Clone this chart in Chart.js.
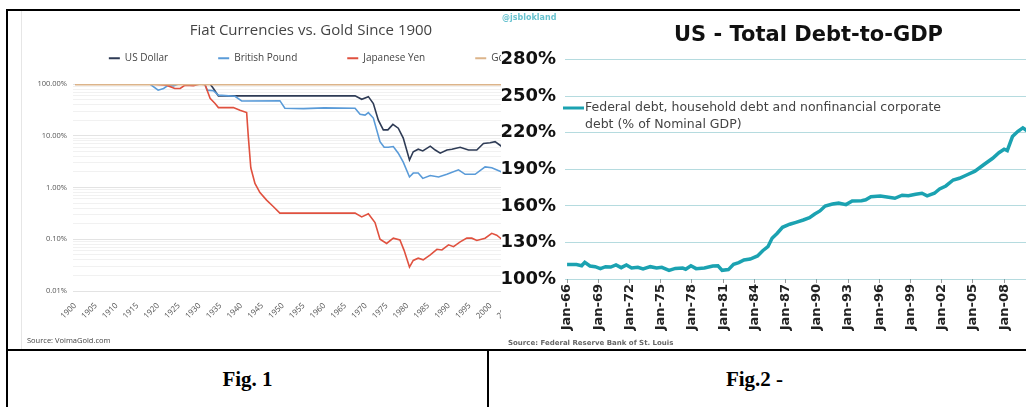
<!DOCTYPE html>
<html><head><meta charset="utf-8">
<script src="https://cdn.jsdelivr.net/npm/chart.js@4.4.1/dist/chart.umd.min.js"></script>
<style>
html,body{margin:0;padding:0;background:#fff;width:1026px;height:407px;overflow:hidden;position:relative;}
.abs{position:absolute;}
#leftWrap{left:21px;top:10px;width:580px;height:338px;z-index:1;}
#imgEdge{left:21px;top:10px;width:1px;height:339px;background:#e6e6e6;z-index:2;}
#rightWrap{left:501px;top:11px;width:551px;height:337px;background:#fff;z-index:3;}
.bl{background:#000;z-index:5;}
.src1{left:27px;top:335px;font:7.5px "Open Sans",sans-serif;color:#444;z-index:2;}
.src2{left:7px;top:328px;font:bold 7px "DejaVu Sans",sans-serif;color:#666;}
.handle{left:1px;top:2px;font:bold 8px "DejaVu Sans",sans-serif;color:#69c3d0;}
.cap{top:367px;font:bold 21px "Liberation Serif","Times New Roman",serif;color:#000;text-align:center;z-index:5;}
</style></head>
<body>
<div id="leftWrap" class="abs"><canvas id="fiat" width="580" height="338"></canvas></div>
<div id="imgEdge" class="abs"></div>
<div class="abs src1">Source: VoimaGold.com</div>
<div id="rightWrap" class="abs">
  <canvas id="debt" width="551" height="337"></canvas>
  <div class="abs handle">@jsblokland</div>
  <div class="abs src2">Source: Federal Reserve Bank of St. Louis</div>
</div>
<div class="abs bl" style="left:6px;top:9px;width:1014px;height:2px;"></div>
<div class="abs bl" style="left:6px;top:9px;width:2px;height:398px;"></div>
<div class="abs bl" style="left:6px;top:349px;width:1020px;height:2px;"></div>
<div class="abs bl" style="left:487px;top:349px;width:2px;height:58px;"></div>
<div class="abs cap" style="left:8px;width:479px;">Fig. 1</div>
<div class="abs cap" style="left:489px;width:531px;">Fig.2 -</div>
<script>
// ---------- Fig. 1 data ----------
const fiatTitle = 'Fiat Currencies vs. Gold Since 1900';
const fiatSeriesNames = ['US Dollar', 'British Pound', 'Japanese Yen', 'Gold'];
const fiatColors = ['#2e3b55', '#5a9bd8', '#e0513f', '#dcb48a'];

const usdYears  = [1900, 1932.5, 1933.3, 1934.5, 1967.4, 1969, 1970.6, 1971.8, 1973, 1974.2, 1975.3, 1976.5, 1977.8, 1979, 1980.5, 1981.4, 1982.6, 1983.7, 1985.5, 1986.7, 1987.9, 1989.5, 1990.7, 1992.7, 1994.7, 1996.7, 1998.3, 1999.9, 2001.1, 2002.7];
const usdValues = [100, 100, 82, 59, 59, 50.6, 57, 42, 20, 13, 13, 16.6, 14, 9, 3.4, 4.9, 5.5, 5.1, 6.3, 5.3, 4.6, 5.3, 5.5, 6.0, 5.3, 5.3, 7.1, 7.3, 7.7, 6.2];

const gbpYears  = [1900, 1918, 1920, 1921.3, 1922.5, 1923.7, 1924.9, 1931.2, 1931.8, 1933.3, 1934.5, 1938.5, 1940.1, 1949.3, 1950.5, 1955, 1960, 1967.4, 1968.6, 1969.8, 1970.6, 1971.8, 1973.4, 1974.4, 1975.4, 1976.6, 1977.8, 1979, 1980.5, 1981.4, 1982.6, 1983.7, 1985.5, 1987.5, 1989.5, 1992.3, 1993.9, 1996.3, 1998.7, 2000.3, 2002.7];
const gbpValues = [100, 100, 76, 82, 95, 92, 100, 100, 76, 74, 61, 58, 47, 47.6, 34, 33.5, 34.5, 34, 26, 25, 28, 22, 7.7, 6, 6, 6.2, 4.6, 3.1, 1.6, 1.9, 1.9, 1.5, 1.7, 1.6, 1.8, 2.2, 1.8, 1.8, 2.5, 2.4, 2.0];

const jpyYears  = [1900, 1918, 1922, 1924, 1925.3, 1926.5, 1928.5, 1930.1, 1931.3, 1932.5, 1933.7, 1934.5, 1938.1, 1939.7, 1941.3, 1941.7, 1942.3, 1943.3, 1944.5, 1946.1, 1947.7, 1949.3, 1967.4, 1969, 1970.6, 1972.2, 1973.4, 1975, 1976.6, 1978.2, 1979.2, 1980.5, 1981.4, 1982.6, 1983.8, 1985.5, 1987.1, 1988.3, 1989.9, 1991.1, 1992.7, 1994.3, 1995.5, 1996.7, 1998.7, 2000.3, 2001.5, 2002.7];
const jpyValues = [100, 100, 95, 82, 82, 95, 93, 100, 97, 53, 42, 35, 35, 31, 28, 9.6, 2.4, 1.2, 0.8, 0.57, 0.43, 0.32, 0.32, 0.27, 0.31, 0.21, 0.10, 0.083, 0.105, 0.097, 0.061, 0.029, 0.039, 0.043, 0.040, 0.050, 0.064, 0.062, 0.078, 0.072, 0.089, 0.105, 0.105, 0.095, 0.105, 0.13, 0.12, 0.10];

const goldYears  = [1900, 2026];
const goldValues = [100, 100];

const fiatXTicks = [1900, 1905, 1910, 1915, 1920, 1925, 1930, 1935, 1940, 1945, 1950, 1955, 1960, 1965, 1970, 1975, 1980, 1985, 1990, 1995, 2000, 2005, 2010, 2015, 2020];
const fiatYTickValues = [100, 10, 1, 0.1, 0.01];
const fiatYTickLabels = ['100.00%', '10.00%', '1.00%', '0.10%', '0.01%'];

// ---------- Fig. 2 data ----------
const debtTitle = 'US - Total Debt-to-GDP';
const debtSeriesName = 'Federal debt, household debt and nonfinancial corporate debt (% of Nominal GDP)';
const debtYears  = [1966.0, 1966.9, 1967.4, 1967.7, 1968.2, 1968.7, 1969.2, 1969.7, 1970.2, 1970.7, 1971.2, 1971.7, 1972.2, 1972.8, 1973.3, 1974.0, 1974.6, 1975.1, 1975.8, 1976.4, 1977.1, 1977.4, 1977.9, 1978.4, 1979.2, 1980.0, 1980.5, 1980.9, 1981.5, 1982.0, 1982.5, 1983.0, 1983.6, 1984.3, 1984.8, 1985.3, 1985.7, 1986.2, 1986.7, 1987.4, 1988.0, 1988.7, 1989.3, 1989.8, 1990.3, 1990.8, 1991.5, 1992.1, 1992.8, 1993.4, 1994.3, 1994.7, 1995.2, 1996.1, 1996.9, 1997.5, 1998.2, 1998.8, 1999.5, 2000.1, 2000.6, 2001.3, 2001.8, 2002.4, 2003.1, 2003.7, 2004.4, 2005.2, 2006.0, 2006.9, 2007.5, 2008.0, 2008.3, 2008.8, 2009.3, 2009.8, 2010.3];
const debtValues = [111.8, 111.8, 110.9, 113.7, 110.7, 110.1, 108.5, 110.1, 109.8, 111.5, 109.3, 111.5, 109.0, 109.6, 108.2, 110.1, 109.0, 109.6, 107.1, 108.7, 109.0, 108.0, 110.9, 108.5, 109.0, 110.7, 110.9, 107.1, 107.7, 112.0, 113.4, 115.6, 116.4, 118.9, 123.2, 126.5, 133.4, 137.5, 142.4, 144.9, 146.5, 148.4, 150.3, 153.3, 155.8, 159.9, 161.5, 162.3, 161.0, 164.0, 164.2, 165.0, 167.5, 168.0, 167.0, 166.2, 168.7, 168.2, 169.5, 170.3, 168.2, 170.3, 173.8, 176.3, 181.2, 182.6, 185.3, 188.4, 193.5, 199.0, 203.6, 206.4, 205.3, 216.8, 220.9, 224.0, 221.0];
const debtXTicks = [1966, 1969, 1972, 1975, 1978, 1981, 1984, 1987, 1990, 1993, 1996, 1999, 2002, 2005, 2008, 2011];
const debtXTickLabels = ['Jan-66', 'Jan-69', 'Jan-72', 'Jan-75', 'Jan-78', 'Jan-81', 'Jan-84', 'Jan-87', 'Jan-90', 'Jan-93', 'Jan-96', 'Jan-99', 'Jan-02', 'Jan-05', 'Jan-08', 'Jan-11'];
const debtYTicks = [100, 130, 160, 190, 220, 250, 280];

// ---------- helpers ----------
const pts = (xs, ys) => xs.map((x, i) => ({x: x, y: ys[i]}));
const isDecade = v => fiatYTickValues.some(t => Math.abs(t - v) / t < 1e-6);
const logGrid = [];
for (let e = -2; e <= 1; e++) for (let k = 1; k <= 9; k++) logGrid.push(k * Math.pow(10, e));
logGrid.push(100);

const OS = '"Open Sans", sans-serif';

new Chart(document.getElementById('fiat'), {
  type: 'line',
  data: {
    datasets: [
      {label: fiatSeriesNames[0], data: pts(usdYears, usdValues), borderColor: fiatColors[0], backgroundColor: fiatColors[0], borderWidth: 1.6, order: 3},
      {label: fiatSeriesNames[1], data: pts(gbpYears, gbpValues), borderColor: fiatColors[1], backgroundColor: fiatColors[1], borderWidth: 1.6, order: 2},
      {label: fiatSeriesNames[2], data: pts(jpyYears, jpyValues), borderColor: fiatColors[2], backgroundColor: fiatColors[2], borderWidth: 1.6, order: 1},
      {label: fiatSeriesNames[3], data: pts(goldYears, goldValues), borderColor: fiatColors[3], backgroundColor: fiatColors[3], borderWidth: 2.8, order: 0}
    ]
  },
  options: {
    responsive: false, animation: false, devicePixelRatio: 1,
    layout: {padding: 0},
    elements: {point: {radius: 0}, line: {tension: 0}},
    plugins: {
      tooltip: {enabled: false},
      title: {display: false},
      legend: {
        display: true, position: 'top', align: 'center',
        title: {display: true, text: fiatTitle, color: '#444', font: {family: OS, size: 15}, padding: {top: 13.5, bottom: -38.2}},
        labels: {
          boxWidth: 11, boxHeight: 2, padding: 50, color: '#444',
          font: {family: OS, size: 10},
          sort: (a, b) => a.datasetIndex - b.datasetIndex,
          generateLabels: (chart) => Chart.defaults.plugins.legend.labels.generateLabels(chart).map(l => Object.assign(l, {lineWidth: 0}))
        }
      }
    },
    scales: {
      x: {
        type: 'linear', position: 'bottom', min: 1899.5, max: 2026.6,
        afterBuildTicks: s => { s.ticks = fiatXTicks.map(v => ({value: v})); },
        afterFit: s => { s.height = 57; },
        grid: {display: false}, border: {display: false},
        ticks: {minRotation: 45, maxRotation: 45, autoSkip: false, padding: 2, color: '#555', font: {family: OS, size: 8}, callback: v => String(v)}
      },
      xTop: {
        type: 'linear', position: 'top', min: 0, max: 1, display: true,
        grid: {display: false}, border: {display: false}, ticks: {display: false},
        afterFit: s => { s.height = 10.7; }
      },
      y: {
        type: 'logarithmic', min: 0.01, max: 100,
        afterBuildTicks: s => { s.ticks = logGrid.map(v => ({value: v})); },
        afterFit: s => { s.width = 52; },
        border: {display: false},
        grid: {drawTicks: false, lineWidth: 1, color: c => isDecade(c.tick.value) ? '#e3e3e3' : '#f1f1f1'},
        ticks: {autoSkip: false, padding: 6, color: '#555', font: {family: OS, size: 7.5},
          callback: v => { const i = fiatYTickValues.findIndex(t => Math.abs(t - v) / t < 1e-6); return i >= 0 ? fiatYTickLabels[i] : ''; }}
      }
    }
  }
});

const debtLegendPlugin = {
  id: 'debtLegend',
  afterDraw(chart) {
    const {ctx, chartArea} = chart;
    const ds = chart.data.datasets[0];
    const x0 = chartArea.left - 2, y0 = chartArea.top + 48.5;
    ctx.save();
    ctx.font = '12.5px "DejaVu Sans", sans-serif';
    const words = ds.label.split(' ');
    const lines = []; let cur = '';
    words.forEach(w => {
      const t = cur ? cur + ' ' + w : w;
      if (ctx.measureText(t).width > 380 && cur) { lines.push(cur); cur = w; } else cur = t;
    });
    lines.push(cur);
    ctx.strokeStyle = ds.borderColor; ctx.lineWidth = 3;
    ctx.beginPath(); ctx.moveTo(x0, y0); ctx.lineTo(x0 + 21, y0); ctx.stroke();
    ctx.fillStyle = '#444'; ctx.textBaseline = 'middle'; ctx.textAlign = 'left';
    lines.forEach((t, i) => ctx.fillText(t, x0 + 22, y0 + i * 17));
    ctx.restore();
  }
};

const DJ = '"DejaVu Sans", sans-serif';
const teal = 'rgba(90,175,185,0.45)';
new Chart(document.getElementById('debt'), {
  type: 'line',
  data: {datasets: [{label: debtSeriesName, data: pts(debtYears, debtValues), borderColor: '#1ba2b1', backgroundColor: '#1ba2b1', borderWidth: 3.5}]},
  options: {
    responsive: false, animation: false, devicePixelRatio: 1,
    layout: {padding: 0},
    elements: {point: {radius: 0}, line: {tension: 0}},
    plugins: {
      tooltip: {enabled: false},
      legend: {display: false},
      title: {display: true, text: debtTitle, fullSize: false, color: '#111', font: {family: DJ, size: 21, weight: 'bold'}, padding: {top: 12.4, bottom: 10.9}}
    },
    scales: {
      x: {
        type: 'linear', min: 1965.8, max: 2012.6,
        afterBuildTicks: s => { s.ticks = debtXTicks.map(v => ({value: v})); },
        afterFit: s => { s.height = 69; },
        border: {display: false},
        grid: {drawOnChartArea: false, drawTicks: true, tickLength: 4, color: '#999'},
        ticks: {minRotation: 90, maxRotation: 90, autoSkip: false, padding: 1, color: '#222', font: {family: DJ, size: 13, weight: 'bold'},
          callback: v => { const i = debtXTicks.indexOf(v); return i >= 0 ? debtXTickLabels[i] : ''; }}
      },
      y: {
        min: 100, max: 280,
        afterBuildTicks: s => { s.ticks = debtYTicks.map(v => ({value: v})); },
        afterFit: s => { s.width = 64; },
        border: {display: false},
        grid: {drawTicks: false, color: teal, lineWidth: 1},
        ticks: {padding: 9, color: '#111', font: {family: DJ, size: 18, weight: 'bold'}, callback: v => v + '%'}
      }
    }
  },
  plugins: [debtLegendPlugin]
});
</script>
</body></html>
